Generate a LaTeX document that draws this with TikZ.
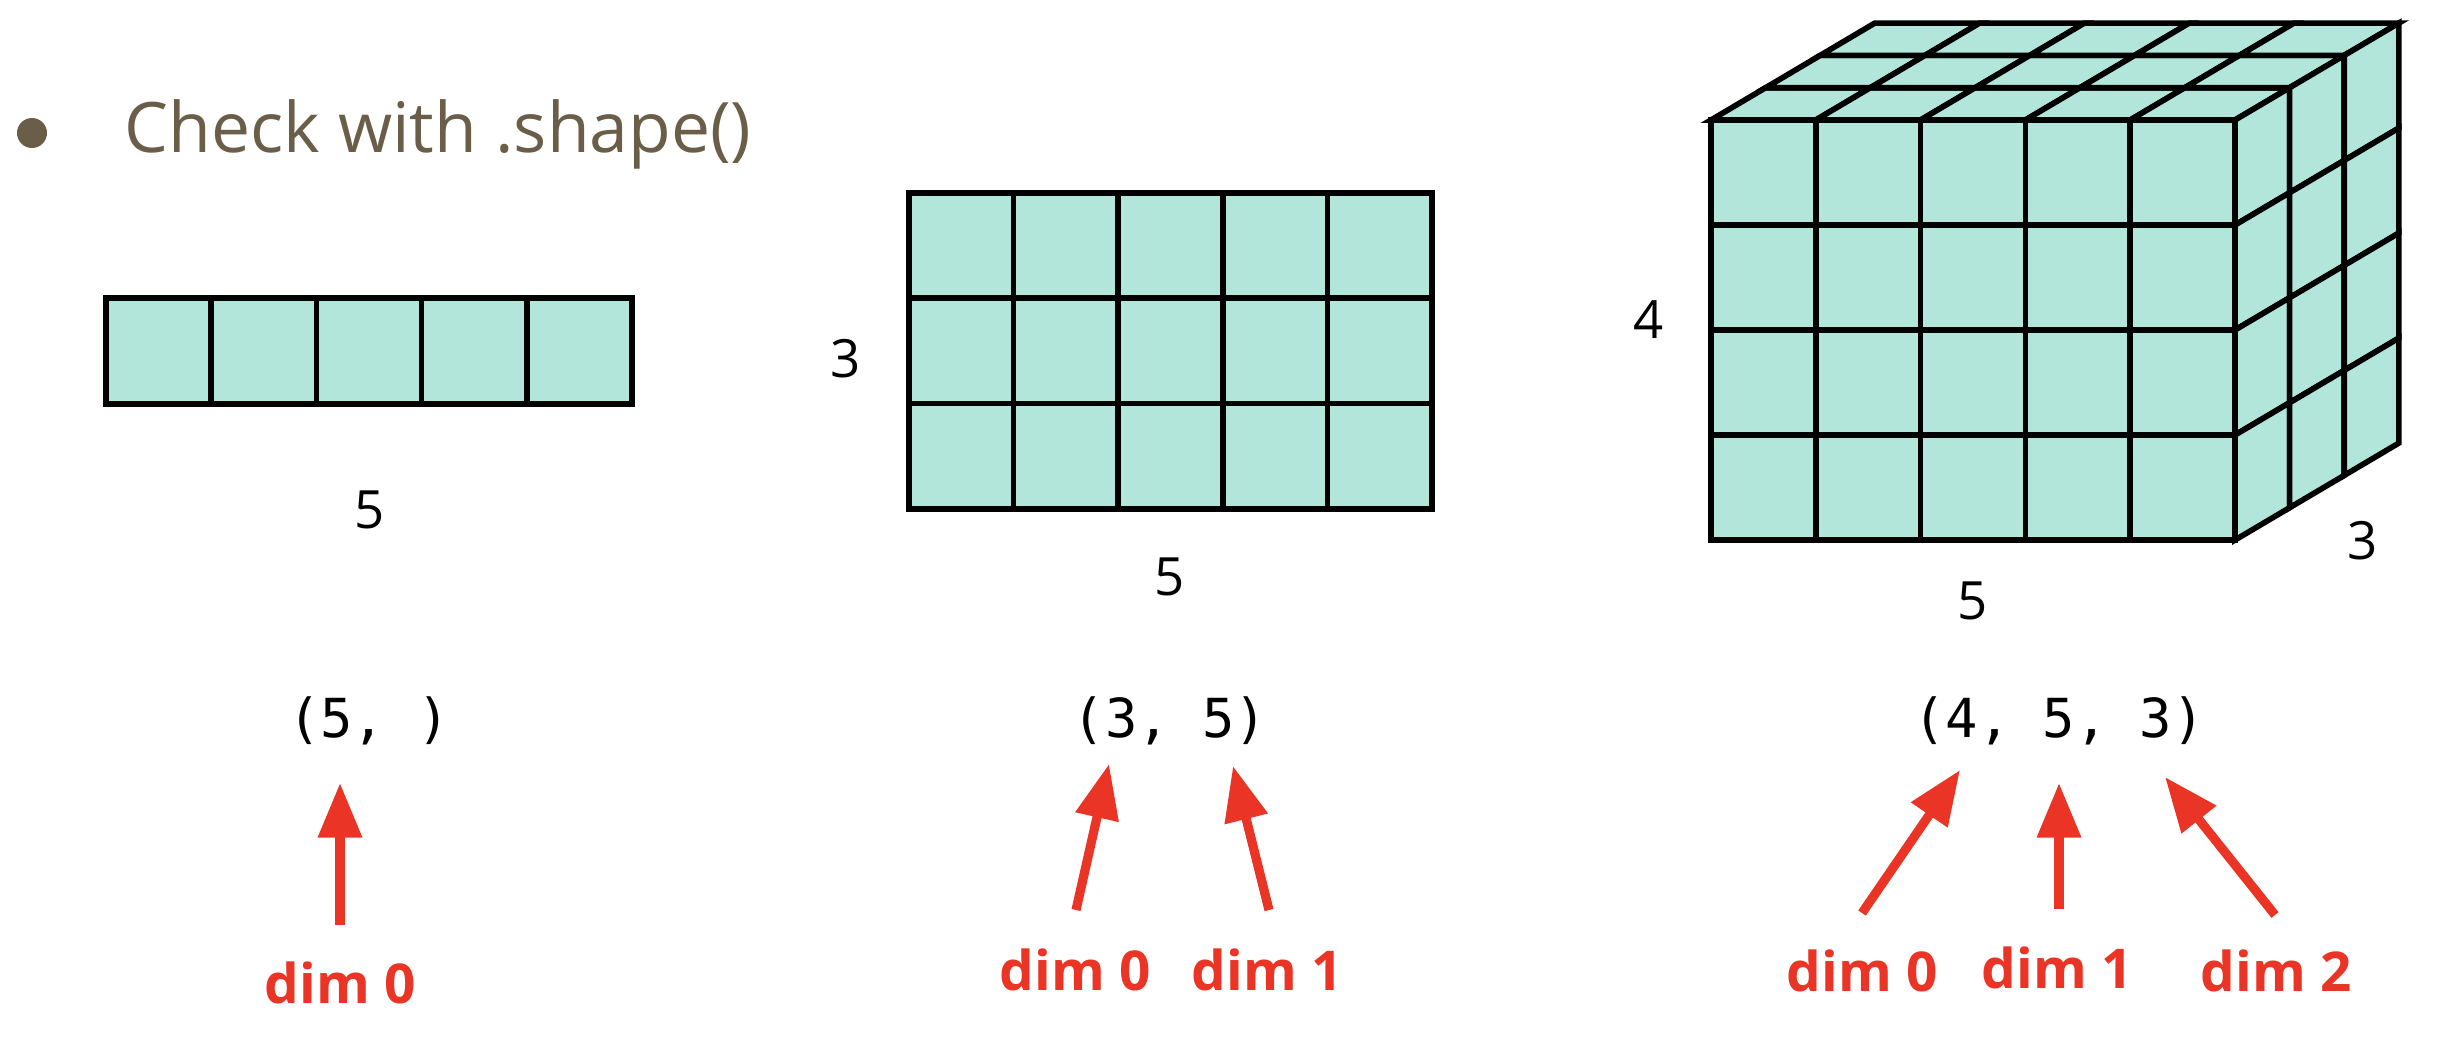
\documentclass[tikz,border=0pt]{standalone}
\usepackage{fontspec}
\setmainfont{Open Sans}
\newfontfamily\codefont{DejaVu Sans Mono}
\usepackage{xcolor}
\usetikzlibrary{arrows.meta}
\definecolor{turquoise}{RGB}{178, 230, 218}
\definecolor{rougevif}{RGB}{234, 52, 38}
\definecolor{brunpuce}{RGB}{107, 94, 73}

\begin{document}
\begin{tikzpicture}[x=0.01cm, y=-0.01cm,
    cellule/.style={draw=black, fill=turquoise, line width=1.6pt},
    fleche/.style={-{Triangle[length=15.5pt, width=12pt]}, line width=2.6pt, draw=rougevif},
    taille/.style={font=\fontsize{15pt}{18pt}\selectfont, inner sep=0pt},
    forme/.style={font=\codefont\fontsize{15.3pt}{18pt}\selectfont, inner sep=0pt, anchor=base},
    dimension/.style={font=\bfseries\fontsize{15.6pt}{18pt}\selectfont, text=rougevif, inner sep=0pt, anchor=base}]
    \useasboundingbox (0,0) rectangle (2446,1040);

    % titre
    \node[circle, fill=brunpuce, inner sep=0pt, minimum size=0.3cm] (puce) at (32,133) {};
    \node[anchor=base west, inner sep=0pt, text=brunpuce, font=\fontsize{19.8pt}{24pt}\selectfont] (titre) at (124,153) {Check with .shape()};

    % vecteur (5,)
    \foreach \i in {0,...,4}
      \draw[cellule] ({106+105.2*\i},298) rectangle ++(105.2,106);
    \node[taille] (n1) at (370,510) {5};

    % matrice (3,5)
    \foreach \i in {0,...,4}
      \foreach \j in {0,...,2}
        \draw[cellule] ({909+104.6*\i},{193+105.3*\j}) rectangle ++(104.6,105.3);
    \node[taille] (n2a) at (846,359) {3};
    \node[taille] (n2b) at (1170,577) {5};

    % tenseur (4,5,3)
    \foreach \i in {0,...,4}
      \foreach \j in {0,...,3}
        \draw[cellule] ({1711+104.8*\i},{120+105*\j}) rectangle ++(104.8,105);
    \foreach \i in {0,...,4}
      \foreach \k in {0,...,2}
        \draw[cellule] ({1711+104.8*\i+54.6*\k},{120-32.3*\k}) -- ++(104.8,0) -- ++(54.6,-32.3) -- ++(-104.8,0) -- cycle;
    \foreach \k in {0,...,2}
      \foreach \j in {0,...,3}
        \draw[cellule] ({2235+54.6*\k},{120-32.3*\k+105*\j}) -- ++(54.6,-32.3) -- ++(0,105) -- ++(-54.6,32.3) -- cycle;
    \node[taille] (n3a) at (1649,320) {4};
    \node[taille] (n3b) at (1973,601) {5};
    \node[taille] (n3c) at (2363,541) {3};

    % formes
    \node[forme] (f1) at (369,737) {(5, )};
    \node[forme] (f2) at (1170,737) {(3, 5)};
    \node[forme] (f3) at (2059,737) {(4, 5, 3)};

    % dimensions
    \node[dimension] (d1a) at (340,1003) {dim 0};
    \node[dimension] (d2a) at (1075,990) {dim 0};
    \node[dimension] (d2b) at (1267,990) {dim 1};
    \node[dimension] (d3a) at (1862,991) {dim 0};
    \node[dimension] (d3b) at (2057,988) {dim 1};
    \node[dimension] (d3c) at (2276,991) {dim 2};

    \coordinate (q1a) at (340,925);   \coordinate (p1a) at (340,783);
    \coordinate (q2a) at (1076,910);  \coordinate (p2a) at (1109,764);
    \coordinate (q2b) at (1269,910);  \coordinate (p2b) at (1233,766);
    \coordinate (q3a) at (1862,913);  \coordinate (p3a) at (1960,770);
    \coordinate (q3b) at (2059,909);  \coordinate (p3b) at (2059,783);
    \coordinate (q3c) at (2275,915);  \coordinate (p3c) at (2165,777);

    \draw[fleche] (q1a) -- (p1a);
    \draw[fleche] (q2a) -- (p2a);
    \draw[fleche] (q2b) -- (p2b);
    \draw[fleche] (q3a) -- (p3a);
    \draw[fleche] (q3b) -- (p3b);
    \draw[fleche] (q3c) -- (p3c);
\end{tikzpicture}
\end{document}
